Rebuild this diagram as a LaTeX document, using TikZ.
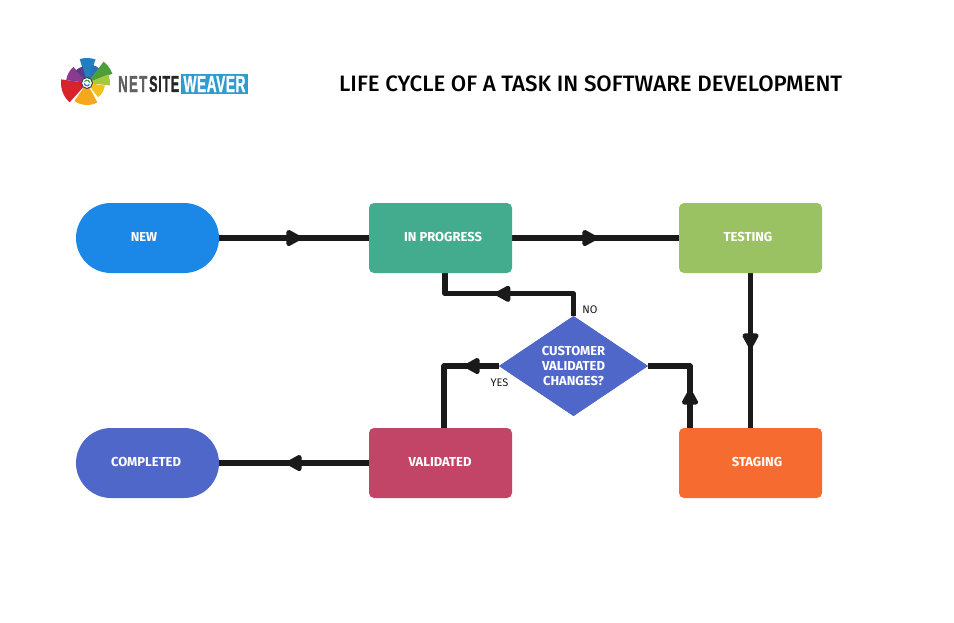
\documentclass[tikz,border=0pt]{standalone}
\usepackage{fontspec}
\usepackage{graphicx}
\setmainfont{Fira Sans}
\newfontfamily\titlefont{Fira Sans Medium}
\newfontfamily\logofont[BoldFeatures={FakeBold=1.5}]{Liberation Sans}
\usetikzlibrary{decorations.markings,shapes.geometric}
\definecolor{cnew}{HTML}{1B87E6}
\definecolor{cprog}{HTML}{44AC8E}
\definecolor{ctest}{HTML}{9AC263}
\definecolor{cstage}{HTML}{F66C30}
\definecolor{cvalid}{HTML}{C24567}
\definecolor{cdone}{HTML}{4F67C8}
\definecolor{cline}{HTML}{1A1A1A}
\definecolor{logoa}{HTML}{1F7FC0}
\definecolor{logob}{HTML}{2B6FB5}
\definecolor{logoc}{HTML}{4C9E3A}
\definecolor{logod}{HTML}{A6C83C}
\definecolor{logoe}{HTML}{F2C21A}
\definecolor{logof}{HTML}{F5A81C}
\definecolor{logog}{HTML}{D8232A}
\definecolor{logoh}{HTML}{8C3A8F}
\definecolor{logoi}{HTML}{5B3A8C}
\definecolor{logobar}{HTML}{2F9BD0}
\tikzset{
  flowbox/.style={minimum width=143pt,minimum height=70pt,inner sep=0pt,rounded corners=5pt,text=white,font=\fontsize{13}{15}\selectfont\bfseries,align=center},
  pillbox/.style={flowbox,rounded corners=35pt},
  decision/.style={diamond,aspect=1.49,minimum width=149pt,minimum height=100pt,inner sep=0pt,fill=cdone,text=white,font=\fontsize{13}{14.7}\selectfont\bfseries,align=center},
  conn/.style={draw=cline,line width=5.2pt,line join=round},
  headat/.style={postaction={decorate},decoration={markings,mark=at position #1 with {\filldraw[cline,line width=4.5pt,line join=round] (5,0) -- (-5.5,-5.8) -- (-5.5,5.8) -- cycle;}}},
  small/.style={font=\fontsize{11}{13}\selectfont,text=cline,inner sep=0pt}
}
\newcommand{\wedgeshape}[4]{\fill[#1] (87,83) -- +(-#2:#4) arc[start angle=-#2,end angle=-#3,radius=#4] -- cycle;}
\newcommand{\lift}[1]{\raisebox{2pt}{#1}}
\begin{document}
\begin{tikzpicture}[x=1pt,y=-1pt]
\useasboundingbox (0,0) rectangle (954,622);
\fill[white] (0,0) rectangle (954,622);
\path (147.5,238) node[pillbox] (new) {}
      (440.5,238) node[flowbox] (prog) {}
      (750.5,238) node[flowbox] (test) {}
      (750.5,463) node[flowbox] (stage) {}
      (440.5,463) node[flowbox] (valid) {}
      (147.5,463) node[pillbox] (done) {}
      (573.5,366) node[decision] (cust) {};
\coordinate (stagefoot) at ([xshift=-60.5pt]stage.north);
\coordinate (validfoot) at ([xshift=3.5pt]valid.north);
\coordinate (progfoot) at ([xshift=4.5pt]prog.south);
\draw[conn,headat=75pt] (new.east) -- (prog.west);
\draw[conn,headat=78pt] (prog.east) -- (test.west);
\draw[conn,headat=68pt] (test.south) -- (stage.north);
\draw[conn,headat=31pt] (stagefoot) |- (cust.east);
\draw[conn,headat=93pt] (cust.north) |- ([yshift=22pt]cust.north) -| (progfoot);
\draw[conn,headat=27pt] (cust.west) -| (validfoot);
\draw[conn,headat=75pt] (valid.west) -- (done.east);
\node[pillbox,fill=cnew,name=new2] at (new) {\lift{\hspace*{-7pt}NEW}};
\node[flowbox,fill=cprog,name=prog2] at (prog) {\lift{\hspace*{5pt}IN PROGRESS}};
\node[flowbox,fill=ctest,name=test2] at (test) {\lift{\hspace*{-5pt}TESTING}};
\node[flowbox,fill=cstage,name=stage2] at (stage) {\lift{\hspace*{13pt}STAGING}};
\node[flowbox,fill=cvalid,name=valid2] at (valid) {\lift{\hspace*{-1pt}VALIDATED}};
\node[pillbox,fill=cdone,name=done2] at (done) {\lift{\hspace*{-3pt}COMPLETED}};
\node[decision,name=cust2] at (cust) {CUSTOMER\\VALIDATED\\CHANGES?};
\node[small,name=nolabel] at (590,310) {NO};
\node[small,name=yeslabel] at (499.5,383) {YES};
\node[name=title,inner sep=0pt,anchor=west,font=\titlefont\fontsize{22.3}{26}\selectfont] at (339,84) {LIFE CYCLE OF A TASK IN SOFTWARE DEVELOPMENT};
% logo
\wedgeshape{logoa}{70}{107}{25}
\wedgeshape{logob}{48}{72}{19}
\wedgeshape{logoc}{20}{52}{27}
\wedgeshape{logod}{-6}{22}{23}
\wedgeshape{logoe}{-52}{-8}{18}
\wedgeshape{logof}{-125}{-62}{22}
\wedgeshape{logog}{172}{228}{26}
\wedgeshape{logoh}{130}{172}{21}
\wedgeshape{logoi}{105}{132}{17}
\fill[white,draw=black!75,line width=1pt] (87,83) circle (5.5);
\draw[logoc,line width=1.2pt] (87,83) ++(-150:2.8) arc[start angle=-150,end angle=-10,radius=2.8];
\draw[logoa,line width=1.2pt] (87,83) ++(30:2.8) arc[start angle=30,end angle=170,radius=2.8];
\node[name=logonet,anchor=west,inner sep=0pt,text=black!62,font=\logofont\bfseries] at (118,84) {\resizebox{29pt}{16pt}{\addfontfeature{LetterSpace=10}NET}};
\node[name=logosite,anchor=west,inner sep=0pt,text=black!85,font=\logofont\bfseries] at (149,84) {\resizebox{30pt}{16pt}{\addfontfeature{LetterSpace=6}SITE}};
\fill[logobar] (181,73.5) rectangle (248,93.5);
\node[name=logoweaver,anchor=center,inner sep=0pt,text=white,font=\logofont\bfseries] at (214.5,84) {\resizebox{62pt}{16pt}{\addfontfeature{LetterSpace=4}WEAVER}};
\end{tikzpicture}
\end{document}
